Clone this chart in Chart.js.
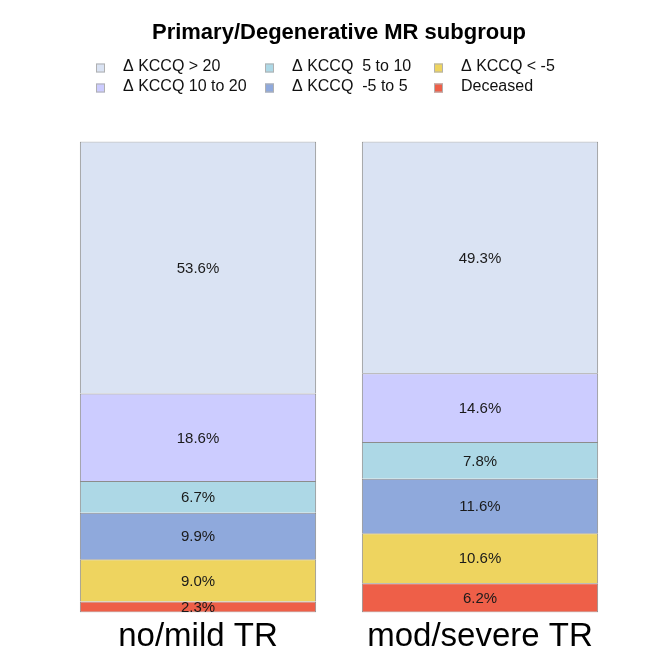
<!DOCTYPE html>
<html>
<head>
<meta charset="utf-8">
<script src="https://cdn.jsdelivr.net/npm/chart.js@4"></script>
<style>
  html, body { margin: 0; padding: 0; background: #fff; }
</style>
</head>
<body>
<canvas id="mrCanvas" width="664" height="664"></canvas>
<script>
const categories = ["no/mild TR", "mod/severe TR"];
const groupNames = ["Deceased", "\u0394 KCCQ < -5", "\u0394 KCCQ  -5 to 5", "\u0394 KCCQ  5 to 10", "\u0394 KCCQ 10 to 20", "\u0394 KCCQ > 20"];
const deceased = [2.3, 6.2];
const kccqBelowMinus5 = [9.0, 10.6];
const kccqMinus5to5 = [9.9, 11.6];
const kccq5to10 = [6.7, 7.8];
const kccq10to20 = [18.6, 14.6];
const kccqAbove20 = [53.6, 49.3];
const groupColors = ["#EE5F48", "#EED45F", "#8FA9DC", "#ADD8E6", "#CCCCFF", "#DAE3F3"];

const seriesValues = [deceased, kccqBelowMinus5, kccqMinus5to5, kccq5to10, kccq10to20, kccqAbove20];
const fontFam = "'Liberation Sans', Arial, sans-serif";

// legend order (column by column, like the original)
const legendOrder = [5, 4, 3, 2, 1, 0];

const barLabels = {
    id: "barLabels",
    afterDatasetsDraw(chart) {
        const ctx = chart.ctx;
        ctx.save();
        ctx.font = "15px " + fontFam;
        ctx.fillStyle = "#1a1a1a";
        ctx.textAlign = "center";
        ctx.textBaseline = "middle";
        chart.data.datasets.forEach((ds, i) => {
            const meta = chart.getDatasetMeta(i);
            meta.data.forEach((bar, j) => {
                const mid = (bar.y + bar.base) / 2;
                ctx.fillText(ds.data[j].toFixed(1) + "%", bar.x, mid + 1);
            });
        });
        ctx.restore();
    }
};

const customLegend = {
    id: "customLegend",
    afterDraw(chart) {
        const ctx = chart.ctx;
        const colX = [96, 265, 434];
        const rowY = [67, 87];
        ctx.save();
        ctx.font = "16px " + fontFam;
        ctx.textBaseline = "middle";
        legendOrder.forEach((idx, k) => {
            const col = Math.floor(k / 2);
            const row = k % 2;
            const x = colX[col], y = rowY[row];
            ctx.fillStyle = groupColors[idx];
            ctx.fillRect(x, y - 3.5, 9, 9);
            ctx.strokeStyle = "#b0b0b0";
            ctx.lineWidth = 1;
            ctx.strokeRect(x + 0.5, y - 3, 8, 8);
            ctx.fillStyle = "#111";
            ctx.fillText(groupNames[idx], x + 27, y);
        });
        ctx.restore();
    }
};

const mrChart = new Chart(document.getElementById("mrCanvas"), {
    type: "bar",
    data: {
        labels: categories,
        datasets: seriesValues.map((vals, i) => ({
            label: groupNames[i],
            data: vals,
            backgroundColor: groupColors[i],
            borderColor: "#8c8c8c",
            borderWidth: 1,
            borderSkipped: i === 0 ? false : "bottom",
            barPercentage: 0.838,
            categoryPercentage: 1
        }))
    },
    options: {
        responsive: false,
        animation: false,
        layout: { padding: { left: 57, right: 43, top: 0, bottom: 10 } },
        plugins: {
            legend: { display: false },
            tooltip: { enabled: false },
            title: {
                display: true,
                text: "Primary/Degenerative MR subgroup",
                color: "#000",
                font: { family: fontFam, size: 22, weight: "bold" },
                padding: { top: 20, bottom: 95 }
            }
        },
        scales: {
            x: {
                stacked: true,
                grid: { display: false },
                border: { display: false },
                ticks: { color: "#000", font: { family: fontFam, size: 33 }, padding: -3 }
            },
            y: {
                stacked: true,
                display: false,
                min: 0,
                max: 100.1
            }
        }
    },
    plugins: [barLabels, customLegend]
});
</script>
</body>
</html>
